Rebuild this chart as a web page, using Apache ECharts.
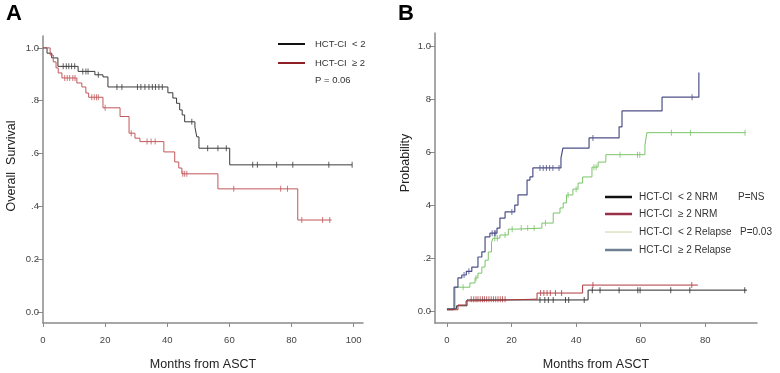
<!DOCTYPE html>
<html>
<head>
<meta charset="utf-8">
<script src="https://cdn.jsdelivr.net/npm/echarts@6/dist/echarts.min.js"></script>
<style>
  html, body { margin: 0; padding: 0; background: #fff; }
  #chart { width: 780px; height: 373px; }
</style>
</head>
<body>
<div id="chart"></div>
<script>
// ---- Panel A: overall survival (months, survival) ----
const osLowTimes = [0, 1.3, 2.8, 4.8, 11.3, 16.7, 19.3, 20.9, 40.2, 41.8, 43.0, 44.0, 44.8, 45.6, 48.9, 49.5, 50.2, 60.1, 99.5];
const osLowVals = [1, 0.98, 0.962, 0.93, 0.911, 0.898, 0.89, 0.852, 0.83, 0.81, 0.79, 0.765, 0.746, 0.72, 0.70, 0.663, 0.62, 0.557, 0.557];
const osLowCensor = [6.5, 7.5, 8.3, 9.2, 10.2, 12.8, 13.8, 14.5, 17.8, 23.8, 25.4, 30.4, 31.5, 32.8, 34.1, 35.2, 36.2, 37.3, 38.4, 47.9, 53, 56.3, 59, 67.5, 69, 75.2, 80.4, 92, 99.5];

const osHighTimes = [0, 2.3, 3.3, 4.2, 4.9, 6.1, 10.9, 12.5, 13.8, 14.7, 19.3, 24.8, 27.7, 29.6, 31.2, 38.9, 42.4, 43.7, 44.7, 56.3, 82.0, 92.9];
const osHighVals = [1, 0.973, 0.947, 0.924, 0.905, 0.886, 0.867, 0.852, 0.829, 0.813, 0.773, 0.74, 0.677, 0.658, 0.645, 0.606, 0.568, 0.545, 0.523, 0.466, 0.348, 0.348];
const osHighCensor = [7.0, 7.8, 8.6, 9.6, 10.3, 15.7, 16.5, 17.2, 17.8, 20.0, 28.4, 33.5, 34.8, 36.1, 45.0, 45.6, 46.3, 61.4, 76.5, 78.7, 83.3, 90.0, 92.3];

// ---- Panel B: cumulative incidence ----
const nrmLowTimes = [0, 1.9, 3.0, 6.2, 43.7, 92.9];
const nrmLowVals = [0.005, 0.01, 0.02, 0.042, 0.079, 0.079];
const nrmLowCensor = [28.8, 30.3, 31.4, 32.9, 36.7, 37.7, 42.5, 45.0, 47.4, 53.3, 59.1, 59.8, 69.3, 75.2, 92.2];

const nrmHighTimes = [0, 3.4, 5.9, 6.5, 27.9, 42.0, 77.7];
const nrmHighVals = [0.005, 0.023, 0.038, 0.045, 0.068, 0.098, 0.098];
const nrmHighCensor = [7.5, 8.3, 9.0, 9.6, 10.3, 11.0, 11.6, 12.3, 13.0, 13.7, 14.4, 15.1, 15.8, 16.5, 17.2, 18.0, 29.0, 30.0, 31.0, 32.0, 33.6, 35.5, 45.2, 75.8];

const relLowTimes = [0, 2.5, 7.1, 8.7, 9.6, 10.8, 11.8, 12.8, 13.8, 14.3, 16.4, 19.0, 21.0, 29.4, 32.9, 35.0, 36.0, 37.0, 39.0, 40.6, 42.0, 44.9, 46.8, 49.2, 61.3, 61.9, 92.5];
const relLowVals = [0.008, 0.09, 0.106, 0.125, 0.143, 0.166, 0.192, 0.223, 0.26, 0.275, 0.287, 0.309, 0.313, 0.332, 0.37, 0.389, 0.408, 0.438, 0.46, 0.483, 0.506, 0.543, 0.562, 0.59, 0.626, 0.673, 0.673];
const relLowCensor = [5.0, 9.0, 14.8, 15.6, 18.0, 20.2, 23.0, 25.0, 27.0, 30.5, 37.5, 40.0, 45.5, 46.2, 53.6, 59.0, 59.7, 69.5, 75.4, 92.3];

const relHighTimes = [0, 2.2, 3.4, 4.6, 6.0, 7.7, 9.6, 10.8, 11.8, 13.3, 15.5, 16.4, 18.0, 21.0, 22.0, 24.8, 25.7, 26.6, 35.3, 35.9, 44.0, 53.3, 54.2, 66.6, 78.0];
const relHighVals = [0.008, 0.09, 0.125, 0.136, 0.15, 0.166, 0.204, 0.223, 0.28, 0.294, 0.313, 0.351, 0.374, 0.40, 0.438, 0.494, 0.506, 0.54, 0.577, 0.615, 0.653, 0.695, 0.755, 0.807, 0.90];
const relHighCensor = [5.3, 6.8, 14.0, 14.7, 15.1, 20.1, 28.8, 29.8, 30.8, 31.8, 32.8, 34.7, 45.2, 75.9];

// ticks
const xTicksA = [0, 20, 40, 60, 80, 100];
const yTicksA = [0, 0.2, 0.4, 0.6, 0.8, 1.0];
const yLabelsA = ["0.0", "0.2", ".4", ".6", ".8", "1.0"];
const xTicksB = [0, 20, 40, 60, 80];
const yTicksB = [0, 0.2, 0.4, 0.6, 0.8, 1.0];
const yLabelsB = ["0.0", ".2", "4", "6", "8", "1.0"];

const FONT = "Liberation Sans, Arial, sans-serif";

function pairs(ts, vs) {
  return ts.map((t, i) => [t, vs[i]]);
}
function stepAt(t, ts, vs) {
  let v = vs[0];
  for (let i = 0; i < ts.length; i++) {
    if (ts[i] <= t) v = vs[i];
  }
  return v;
}
function censorPts(cs, ts, vs) {
  return cs.map(c => [c, stepAt(c, ts, vs)]);
}
function labelFor(vals, labels) {
  return v => {
    const i = vals.findIndex(x => Math.abs(x - v) < 1e-6);
    return i >= 0 ? labels[i] : "";
  };
}

function stepSeries(idx, data, color, width) {
  return {
    type: "line", step: "end", xAxisIndex: idx, yAxisIndex: idx,
    data: data, symbol: "none", silent: true,
    lineStyle: { color: color, width: width }
  };
}
function censorSeries(idx, data, color) {
  return {
    type: "scatter", xAxisIndex: idx, yAxisIndex: idx,
    data: data, symbol: "rect", symbolSize: [1, 6], silent: true,
    itemStyle: { color: color }
  };
}

function xAxisCfg(idx, min, max, ticks) {
  return {
    type: "value", gridIndex: idx, min: min, max: max,
    name: "Months from ASCT", nameLocation: "middle", nameGap: 35,
    nameTextStyle: { color: "#222", fontSize: 12.5, fontFamily: FONT },
    axisLine: { show: true, onZero: false, lineStyle: { color: "#8a8a8a", width: 1.5 } },
    axisTick: { show: true, length: 4, customValues: ticks, lineStyle: { color: "#8a8a8a" } },
    axisLabel: { customValues: ticks, color: "#444", fontSize: 9.5, margin: 12, fontFamily: FONT },
    splitLine: { show: false }
  };
}
function yAxisCfg(idx, min, max, ticks, labels) {
  return {
    type: "value", gridIndex: idx, min: min, max: max,
    axisLine: { show: true, onZero: false, lineStyle: { color: "#8a8a8a", width: 1.5 } },
    axisTick: { show: true, length: 6, customValues: ticks, lineStyle: { color: "#8a8a8a" } },
    axisLabel: { customValues: ticks, formatter: labelFor(ticks, labels), color: "#444", fontSize: 9.5, margin: 4, fontFamily: FONT },
    splitLine: { show: false }
  };
}

const cBlackA = "#3a3a3a", cRedA = "#c2575a";
const cBlackB = "#2a2a2a", cRedB = "#b03a3e", cGreen = "#7cc46a", cBlue = "#4d5088";

const chart = echarts.init(document.getElementById("chart"), null, { renderer: "canvas" });

function legendLine(x, y, color, w) {
  return { type: "line", shape: { x1: x, y1: y, x2: x + 27, y2: y }, style: { stroke: color, lineWidth: w } };
}
function legendText(x, y, txt, size) {
  return { type: "text", x: x, y: y, style: { text: txt, fill: "#333", fontSize: size, fontFamily: FONT, verticalAlign: "middle" } };
}
function yTitle(x, y, txt) {
  return {
    type: "text", x: x, y: y, rotation: Math.PI / 2,
    style: { text: txt, fill: "#222", fontSize: 12.5, fontFamily: FONT, align: "center", verticalAlign: "middle" }
  };
}

chart.setOption({
  animation: false,
  backgroundColor: "#fff",
  grid: [
    { left: 43, top: 36, width: 320, height: 287, containLabel: false, outerBoundsMode: "none" },
    { left: 435, top: 33, width: 322, height: 290, containLabel: false, outerBoundsMode: "none" }
  ],
  xAxis: [
    xAxisCfg(0, 0, 103, xTicksA),
    xAxisCfg(1, -3.7, 96, xTicksB)
  ],
  yAxis: [
    yAxisCfg(0, -0.042, 1.045, yTicksA, yLabelsA),
    yAxisCfg(1, -0.045, 1.049, yTicksB, yLabelsB)
  ],
  series: [
    stepSeries(0, pairs(osLowTimes, osLowVals), cBlackA, 1),
    stepSeries(0, pairs(osHighTimes, osHighVals), cRedA, 1),
    censorSeries(0, censorPts(osLowCensor, osLowTimes, osLowVals), cBlackA),
    censorSeries(0, censorPts(osHighCensor, osHighTimes, osHighVals), cRedA),

    stepSeries(1, pairs(relLowTimes, relLowVals), cGreen, 1),
    stepSeries(1, pairs(relHighTimes, relHighVals), cBlue, 1.2),
    stepSeries(1, pairs(nrmLowTimes, nrmLowVals), cBlackB, 1),
    stepSeries(1, pairs(nrmHighTimes, nrmHighVals), cRedB, 1),
    censorSeries(1, censorPts(relLowCensor, relLowTimes, relLowVals), cGreen),
    censorSeries(1, censorPts(relHighCensor, relHighTimes, relHighVals), cBlue),
    censorSeries(1, censorPts(nrmLowCensor, nrmLowTimes, nrmLowVals), cBlackB),
    censorSeries(1, censorPts(nrmHighCensor, nrmHighTimes, nrmHighVals), cRedB)
  ],
  graphic: [
    { type: "text", x: 6, y: 3, style: { text: "A", fill: "#000", fontSize: 22, fontWeight: "bold", fontFamily: FONT } },
    { type: "text", x: 398, y: 3, style: { text: "B", fill: "#000", fontSize: 22, fontWeight: "bold", fontFamily: FONT } },

    yTitle(12, 166, "Overall  Survival"),
    yTitle(406, 163, "Probability"),

    legendLine(278, 44, "#111", 2),
    legendLine(278, 63, "#8e1f24", 2),
    legendText(315, 44, "HCT-CI  < 2", 9.5),
    legendText(315, 63, "HCT-CI  \u2265 2", 9.5),
    legendText(315, 80, "P = 0.06", 9.5),

    legendLine(605, 197, "#111", 2.5),
    legendLine(605, 214, "#9a3048", 2.5),
    legendLine(605, 232, "#c8d6a0", 1),
    legendLine(605, 250, "#6f8094", 2.5),
    legendText(639, 197, "HCT-CI  < 2 NRM", 10),
    legendText(639, 214, "HCT-CI  \u2265 2 NRM", 10),
    legendText(639, 232, "HCT-CI  < 2 Relapse", 10),
    legendText(639, 250, "HCT-CI  \u2265 2 Relapse", 10),
    legendText(738, 197, "P=NS", 10),
    legendText(740, 232, "P=0.03", 10)
  ]
});
</script>
</body>
</html>
